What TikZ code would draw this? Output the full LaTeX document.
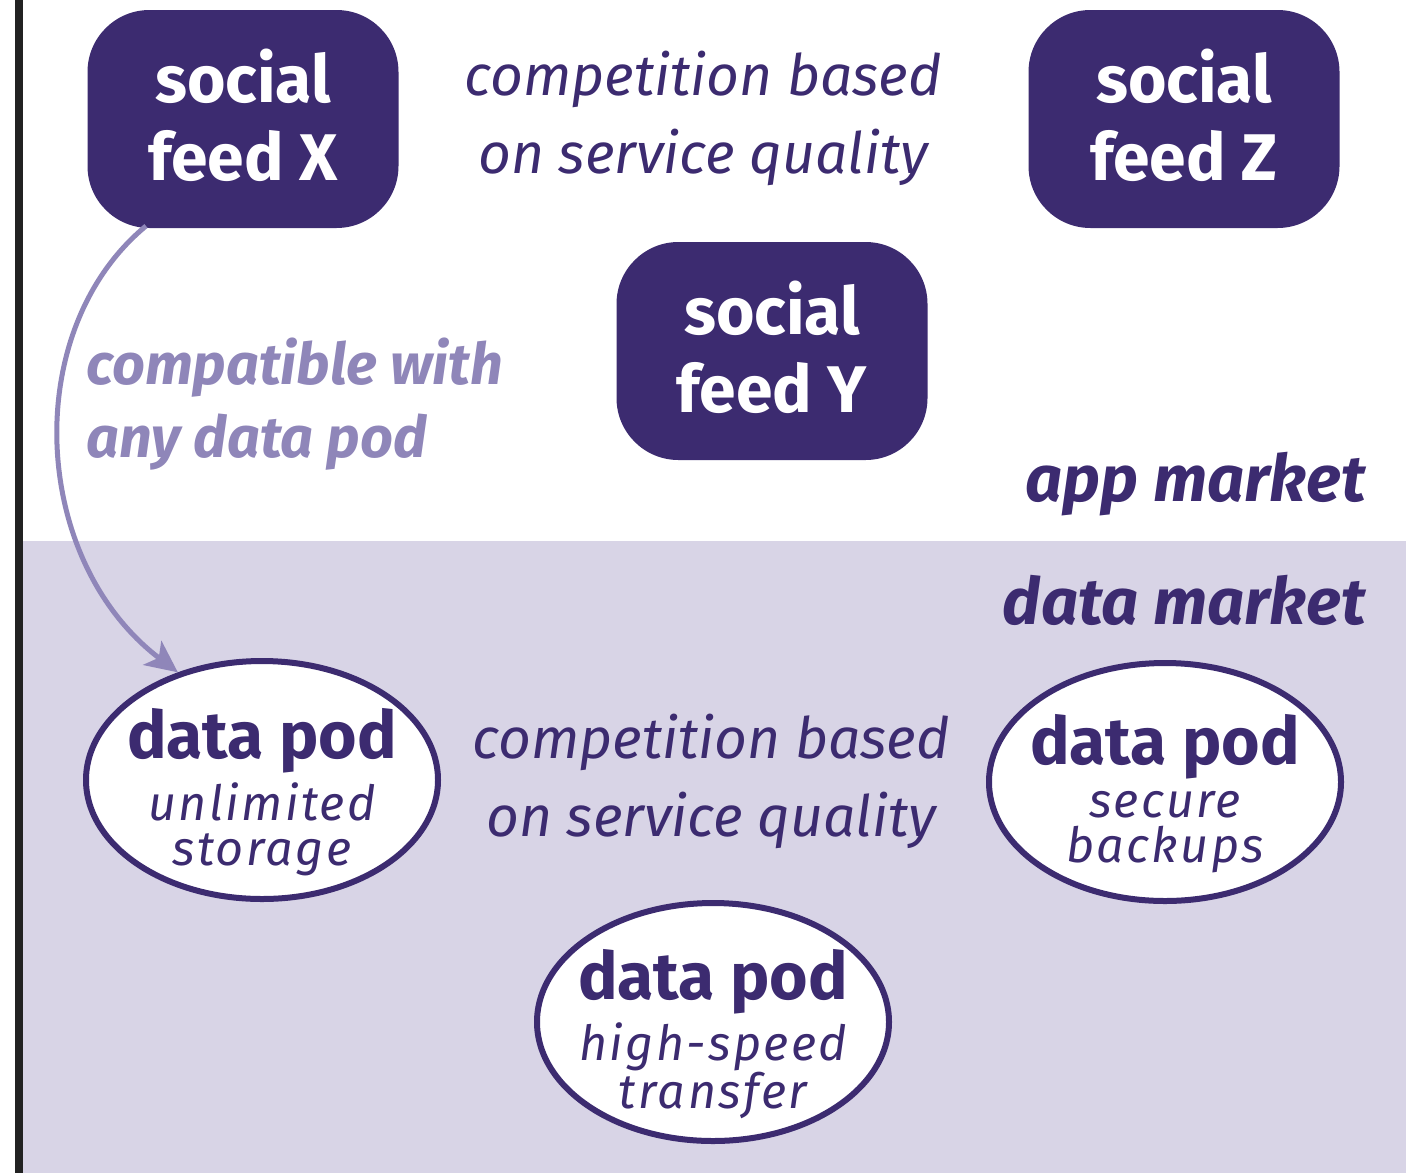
\documentclass[tikz,border=0pt]{standalone}
\usepackage{fontspec}
\setmainfont{Fira Sans}
\newfontfamily\spacedfont[LetterSpace=5]{Fira Sans}
\usetikzlibrary{shapes.geometric,arrows.meta}
\definecolor{darkp}{RGB}{60,43,112}
\definecolor{bandcol}{RGB}{216,212,230}
\definecolor{lightp}{RGB}{143,134,185}
\definecolor{edgecol}{RGB}{34,34,34}
\newcommand{\podtitlefont}{\normalfont\fontsize{66}{66}\selectfont\bfseries}
\tikzset{
  feed/.style={fill=darkp, rounded corners=62pt, minimum width=311pt, minimum height=218pt,
    inner sep=0pt},
  feedtxt/.style={align=center, text=white, inner sep=0pt, font=\fontsize{66}{78}\selectfont\bfseries},
  pod/.style={ellipse, draw=darkp, line width=6pt, fill=white, minimum width=352pt,
    minimum height=238pt, inner sep=0pt},
  podtxt/.style={align=center, text=darkp, inner sep=0pt,
    font=\fontsize{48.5}{45}\selectfont\spacedfont\itshape},
  comp/.style={align=center, text=darkp, font=\fontsize{57}{78}\selectfont\itshape},
  market/.style={anchor=base east, text=darkp, inner sep=0pt, font=\fontsize{65}{70}\selectfont\bfseries\itshape},
  link/.style={draw=lightp, line width=5pt, -{Stealth[length=32pt,width=30pt,inset=8pt]}}
}
\begin{document}
\begin{tikzpicture}[x=1pt,y=-1pt]
\useasboundingbox (0,0) rectangle (1410,1173);
\fill[white] (0,0) rectangle (1410,1173);
\fill[bandcol] (23,541) rectangle (1406,1173);
\fill[edgecol] (15,0) rectangle (23,1173);

\node[feed] (fx) at (243,119) {};
\node[feed] (fz) at (1184,119) {};
\node[feed] (fy) at (772,351) {};
\node[feedtxt] (fxt) at (243,115) {social\\feed X};
\node[feedtxt] (fzt) at (1184,115) {social\\feed Z};
\node[feedtxt] (fyt) at (772,347) {social\\feed Y};

\node[comp] (ct) at (703,118) {competition based\\on service quality};
\node[comp] (cb) at (711,781) {competition based\\on service quality};

\node[anchor=north west, align=left, text=lightp, inner sep=0pt,
  font=\fontsize{57.5}{73}\selectfont\bfseries\itshape] (compat) at (86,338) {compatible with\\any data pod};

\node[market] (app) at (1366,501) {app market};
\node[market] (data) at (1366,624) {data market};

\node[pod] (p1) at (262,780) {};
\node[pod] (p2) at (1165,782) {};
\node[pod] (p3) at (713,1022) {};
\node[podtxt] (p1t) at (262,792) {{\podtitlefont data pod}\\[8pt]unlimited\\storage};
\node[podtxt] (p2t) at (1165,794) {{\podtitlefont data pod}\\[8pt]secure\\backups};
\node[podtxt] (p3t) at (713,1034) {{\podtitlefont data pod}\\[8pt]high-speed\\transfer};

\coordinate (a0) at (146,226);
\draw[link] (a0) .. controls (20,330) and (30,560) .. (p1.128);
\end{tikzpicture}
\end{document}
